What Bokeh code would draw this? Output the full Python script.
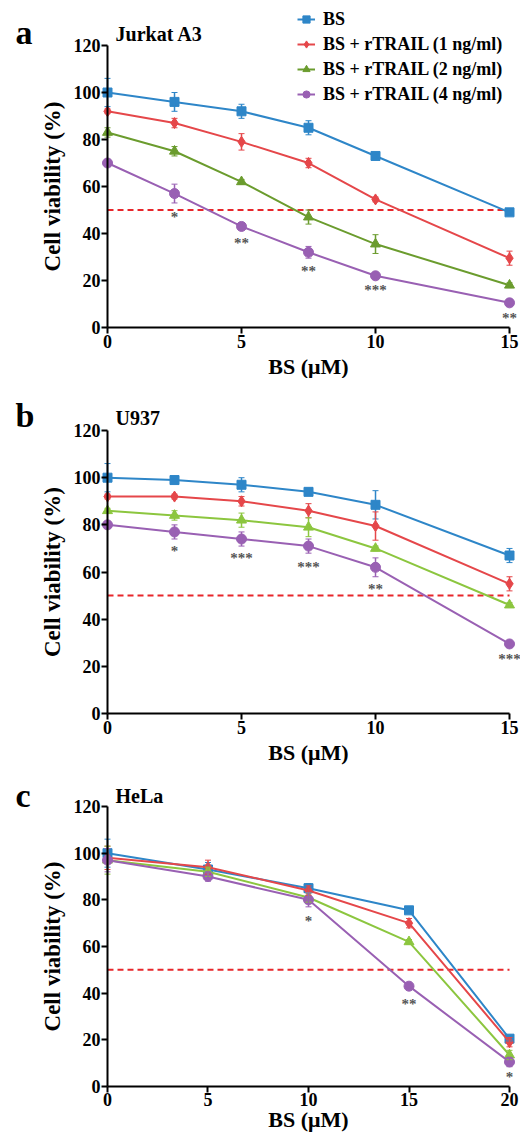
import math
from bokeh.plotting import figure
from bokeh.models import (Range1d, LinearAxis, Legend, LegendItem,
                          Whisker, ColumnDataSource, FixedTicker)
from bokeh.layouts import column
from bokeh.embed import file_html
from bokeh.resources import INLINE
from bokeh.core.properties import value

# ---------------- data ----------------
series_names = ["BS", "BS + rTRAIL (1 ng/ml)", "BS + rTRAIL (2 ng/ml)", "BS + rTRAIL (4 ng/ml)"]
threshold = 50

a_x = [0, 2.5, 5, 7.5, 10, 15]
a_vals = [
    [100, 96, 92, 85, 73, 49],
    [92, 87, 79, 70, 54.5, 29.5],
    [83, 75, 62, 47, 35.5, 18],
    [70, 57, 43, 32, 22, 10.5],
]
a_err = [
    [6, 4, 3, 3, 1, 1],
    [1, 2, 3.5, 2, 1, 3],
    [2, 2, 1, 3, 4, 1],
    [1, 4, 1, 2.5, 1, 1],
]
a_star_x = [2.5, 5, 7.5, 10, 15]
a_star_y = [47, 36, 24, 16, 4]
a_star_t = ["*", "**", "**", "***", "**"]

b_x = [0, 2.5, 5, 7.5, 10, 15]
b_vals = [
    [100, 99, 97, 94, 88.5, 67],
    [92, 92, 90, 86, 79.5, 55],
    [86, 84, 82, 79, 70, 46],
    [80, 77, 74, 71, 62, 29.5],
]
b_err = [
    [6, 0.5, 3, 1, 6, 3],
    [1, 1, 2, 3, 6, 3],
    [1, 2, 3, 4, 1, 1],
    [1, 3, 3, 3, 4, 1],
]
b_star_x = [2.5, 5, 7.5, 10, 15]
b_star_y = [69, 66, 62, 53, 23]
b_star_t = ["*", "***", "***", "**", "***"]

c_x = [0, 5, 10, 15, 20]
c_vals = [
    [100, 93, 85, 75.5, 20.5],
    [98, 94, 84, 70, 19],
    [97, 92, 81, 62, 13.5],
    [97, 90, 80, 43, 10.5],
]
c_err = [
    [6, 3, 2, 1, 1],
    [5, 3, 2, 2, 2],
    [6, 2, 2, 1, 2],
    [5, 2, 3, 1, 2],
]
c_star_x = [10, 15, 20]
c_star_y = [71, 35.5, 4]
c_star_t = ["*", "**", "*"]

y_ticks = [0, 20, 40, 60, 80, 100, 120]
ab_x_ticks = [0, 5, 10, 15]
c_x_ticks = [0, 5, 10, 15, 20]

FONT = "Liberation Serif"
BLUE = "#2e86c8"
RED = "#e5474a"
GREEN_A = "#6b9c2e"
GREEN_BC = "#8cc63f"
PURPLE = "#9960b3"
markers = ["square", "diamond", "triangle", "circle"]
msizes = [9, 11, 10, 10]


def txt(p, x, y, text, size, xo=0, yo=0, align="left", baseline="alphabetic",
        angle=0, color="black"):
    p.text(x=x, y=y, text=text, x_offset=xo, y_offset=yo, angle=angle,
           text_font=value(FONT), text_font_style="bold", text_font_size=size,
           text_color=color, text_align=align, text_baseline=baseline)


def make_panel(letter, title, letter_dy, title_dy, xs, vals, errs, star_x, star_y, star_t,
               x_ticks, x_range, y_range, height, green, xlabel_dy=39, legend=False):
    p = figure(width=520, height=height, output_backend="svg", toolbar_location=None,
               x_range=Range1d(*x_range), y_range=Range1d(*y_range),
               x_axis_location=None, y_axis_location=None,
               min_border_left=0, min_border_right=0, min_border_top=0,
               min_border_bottom=0)
    p.outline_line_color = None
    p.grid.visible = False

    xmax = x_ticks[-1]
    xa = LinearAxis(fixed_location=0, bounds=(0, xmax), ticker=FixedTicker(ticks=x_ticks))
    ya = LinearAxis(fixed_location=0, bounds=(0, 120), ticker=FixedTicker(ticks=y_ticks))
    for ax in (xa, ya):
        ax.axis_line_width = 2
        ax.major_tick_line_width = 2
        ax.major_tick_out = 6
        ax.major_tick_in = 0
        ax.minor_tick_line_color = None
        ax.major_label_text_font = FONT
        ax.major_label_text_font_style = "bold"
        ax.major_label_text_font_size = "18px"
        ax.major_label_text_color = "black"
        ax.major_label_standoff = 1
    p.add_layout(xa, "below")
    p.add_layout(ya, "left")

    # axis titles, panel letter and panel title
    txt(p, [xmax / 2], [0], ["BS (μM)"], "22px", yo=xlabel_dy, align="center")
    txt(p, [0], [60], ["Cell viability (%)"], "23px", xo=-55, align="center",
        baseline="middle", angle=math.pi / 2)
    txt(p, [0], [120], [letter], "34px", xo=-92, yo=letter_dy)
    txt(p, [0], [120], [title], "20px", xo=8, yo=title_dy)

    # 50 % reference line
    p.segment(x0=[0], y0=[threshold], x1=[xmax], y1=[threshold], line_color="#e8262b",
              line_dash="6 4", line_width=2)

    colors = [BLUE, RED, green, PURPLE]
    items = []
    for i in range(4):
        lo = [v - e for v, e in zip(vals[i], errs[i])]
        hi = [v + e for v, e in zip(vals[i], errs[i])]
        src = ColumnDataSource(dict(x=xs, y=vals[i], lo=lo, hi=hi))
        w = Whisker(source=src, base="x", lower="lo", upper="hi", line_color=colors[i],
                    line_width=1.5, level="glyph")
        w.upper_head.line_color = colors[i]
        w.lower_head.line_color = colors[i]
        w.upper_head.size = 6
        w.lower_head.size = 6
        p.add_layout(w)
        ln = p.line("x", "y", source=src, line_color=colors[i], line_width=2)
        mk = p.scatter("x", "y", source=src, marker=markers[i], size=msizes[i],
                       fill_color=colors[i], line_color=colors[i])
        items.append(LegendItem(label=series_names[i], renderers=[ln, mk]))

    txt(p, star_x, star_y, star_t, "15px", align="center", baseline="middle",
        color="#555555")

    if legend:
        lg = Legend(items=items, location=(297, 272), padding=0, margin=0, spacing=1,
                    glyph_width=18, glyph_height=24, label_height=24,
                    label_standoff=8, border_line_color=None,
                    background_fill_alpha=0,
                    label_text_font=FONT, label_text_font_style="bold",
                    label_text_font_size="18px", label_text_color="black")
        p.add_layout(lg)
    return p


pa = make_panel("a", "Jurkat A3", -13, -12, a_x, a_vals, a_err, a_star_x, a_star_y, a_star_t,
                ab_x_ticks, (-3.993, 15.410), (-21.70, 139.15), 378, GREEN_A, legend=True)
pb = make_panel("b", "U937", -15, -13, b_x, b_vals, b_err, b_star_x, b_star_y, b_star_t,
                ab_x_ticks, (-3.993, 15.410), (-22.05, 142.07), 387, GREEN_BC)
pc = make_panel("c", "HeLa", -11, -10, c_x, c_vals, c_err, c_star_x, c_star_y, c_star_t,
                c_x_ticks, (-5.323, 20.547), (-21.0, 137.57), 370, GREEN_BC, xlabel_dy=33)

layout = column(pa, pb, pc, spacing=0)
open("out.html", "w").write(file_html(layout, INLINE))
